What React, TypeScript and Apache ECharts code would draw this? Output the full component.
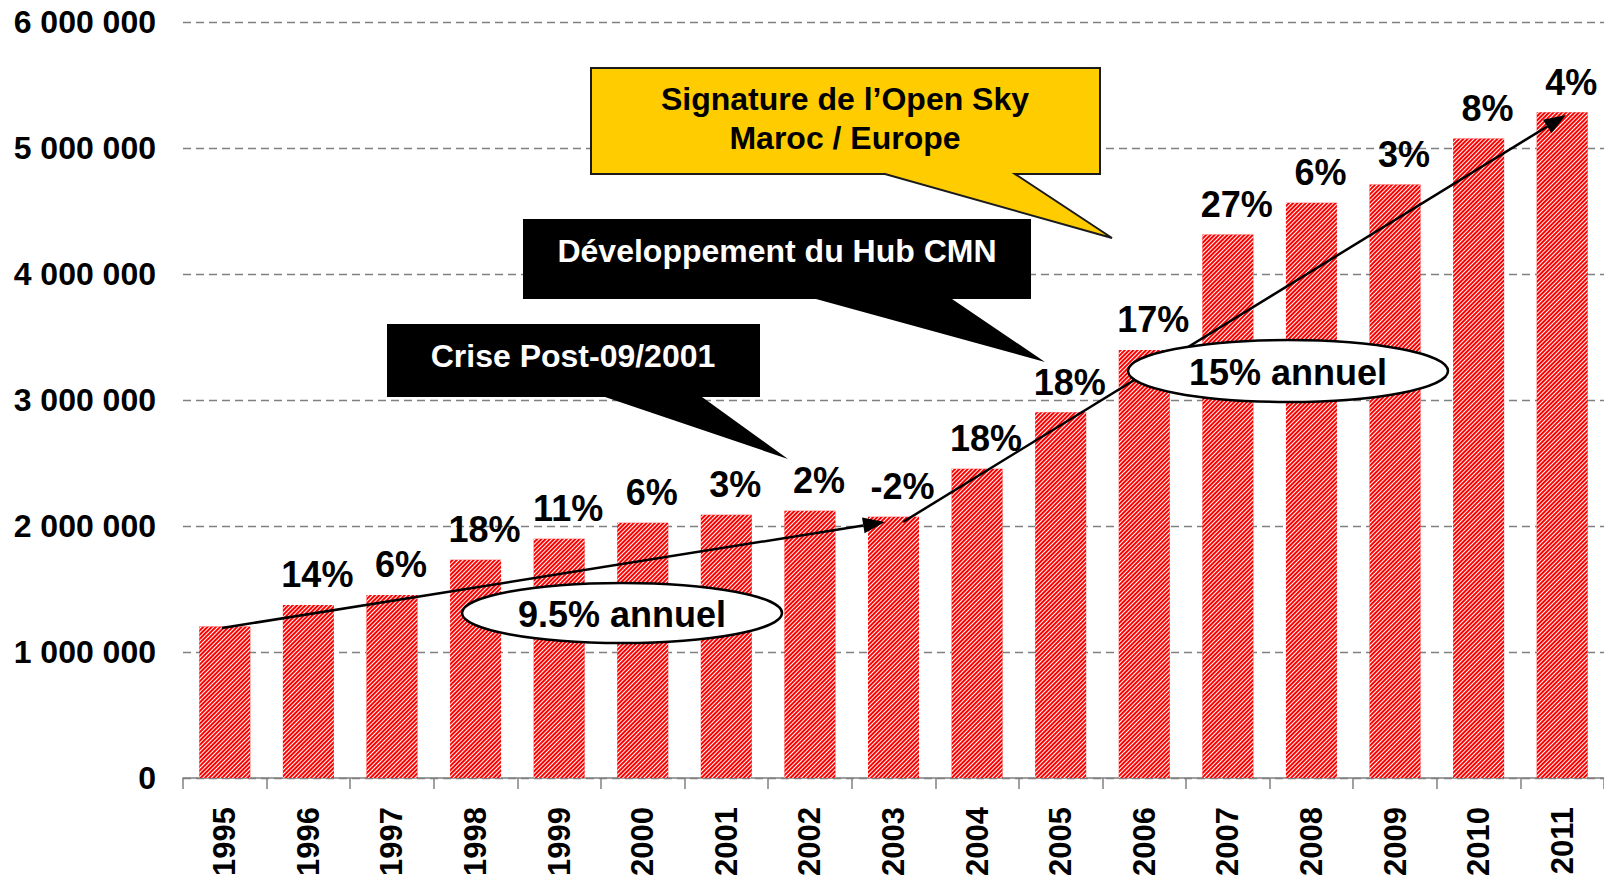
import React, { useEffect, useRef } from "react";
import * as echarts from "echarts";

const years = ["1995", "1996", "1997", "1998", "1999", "2000", "2001", "2002", "2003", "2004", "2005", "2006", "2007", "2008", "2009", "2010", "2011"];
const passengers = [1202000, 1374000, 1453000, 1732000, 1898000, 2025000, 2089000, 2121000, 2073000, 2454000, 2902000, 3397000, 4313000, 4565000, 4710000, 5075000, 5284000];
const growth = ["", "14%", "6%", "18%", "11%", "6%", "3%", "2%", "-2%", "18%", "18%", "17%", "27%", "6%", "3%", "8%", "4%"];
const yTicks = [0, 1000000, 2000000, 3000000, 4000000, 5000000, 6000000];

const FONT = "'Liberation Sans', Arial, sans-serif";

function fmt(v: number) {
  return String(v).replace(/\B(?=(\d{3})+(?!\d))/g, " ");
}

function arrow(x1: number, y1: number, x2: number, y2: number) {
  const len = 22;
  const w = 8;
  const a = Math.atan2(y2 - y1, x2 - x1);
  const bx = x2 - len * Math.cos(a);
  const by = y2 - len * Math.sin(a);
  const px = -Math.sin(a) * w;
  const py = Math.cos(a) * w;
  return [
    { type: "line", z: 100, shape: { x1, y1, x2: bx, y2: by }, style: { stroke: "#000", lineWidth: 2.5 } },
    { type: "polygon", z: 100, shape: { points: [[x2, y2], [bx + px, by + py], [bx - px, by - py]] }, style: { fill: "#000" } },
  ];
}

function ellipse(cx: number, cy: number, rx: number, ry: number, text: string) {
  return [
    { type: "ellipse", z: 101, shape: { cx, cy, rx, ry }, style: { fill: "#fff", stroke: "#000", lineWidth: 2.5 } },
    { type: "text", z: 102, style: { text, x: cx, y: cy + 1, fill: "#000", font: `bold 36px ${FONT}`, textAlign: "center", textVerticalAlign: "middle" } },
  ];
}

function callout(points: number[][], fill: string, stroke: string | null, lines: { t: string; x: number; y: number }[], color: string) {
  const els: any[] = [
    { type: "polygon", z: 103, shape: { points }, style: stroke ? { fill, stroke, lineWidth: 2 } : { fill } },
  ];
  lines.forEach((l) => {
    els.push({ type: "text", z: 104, style: { text: l.t, x: l.x, y: l.y, fill: color, font: `bold 32px ${FONT}`, textAlign: "center", textVerticalAlign: "middle" } });
  });
  return els;
}

export default function App() {
  const ref = useRef<HTMLDivElement>(null);
  useEffect(() => {
    if (!ref.current) return;
    const chart = echarts.init(ref.current, undefined, { renderer: "svg" });
    const graphics: any[] = [
      ...arrow(222, 628, 885, 522),
      ...arrow(903, 522, 1566, 115),
      ...ellipse(622, 613, 160, 30, "9.5% annuel"),
      ...ellipse(1288, 371, 160, 31, "15% annuel"),
      ...callout(
        [[591, 68], [1100, 68], [1100, 174], [1015, 174], [1112, 238], [885, 174], [591, 174]],
        "#FFCC00",
        "#1a1a1a",
        [
          { t: "Signature de l\u2019Open Sky", x: 845, y: 99 },
          { t: "Maroc / Europe", x: 845, y: 138 },
        ],
        "#000"
      ),
      ...callout(
        [[523, 219], [1031, 219], [1031, 299], [952, 299], [1045, 362], [816, 299], [523, 299]],
        "#000",
        null,
        [{ t: "D\u00e9veloppement du Hub CMN", x: 777, y: 251 }],
        "#fff"
      ),
      ...callout(
        [[387, 324], [760, 324], [760, 397], [702, 397], [788, 459], [605, 397], [387, 397]],
        "#000",
        null,
        [{ t: "Crise Post-09/2001", x: 573, y: 356 }],
        "#fff"
      ),
    ];
    chart.setOption({
      animation: false,
      grid: { left: 183, top: 22, width: 1424, height: 756, containLabel: false },
      xAxis: {
        type: "category",
        data: years,
        axisLine: { lineStyle: { color: "#808080", width: 1.5 } },
        axisTick: { show: true, length: 11, lineStyle: { color: "#808080", width: 1.5 } },
        axisLabel: { rotate: 90, margin: 29, fontSize: 31, fontWeight: "bold", color: "#000", fontFamily: FONT },
      },
      yAxis: {
        type: "value",
        min: yTicks[0],
        max: yTicks[yTicks.length - 1],
        interval: yTicks[1] - yTicks[0],
        axisLine: { show: false },
        axisTick: { show: false },
        axisLabel: { margin: 27, fontSize: 32, fontWeight: "bold", color: "#000", fontFamily: FONT, formatter: (v: number) => fmt(v) },
        splitLine: { lineStyle: { color: "#808080", type: [8, 5], width: 1.3 } },
      },
      series: [
        {
          type: "bar",
          data: passengers,
          barWidth: 51,
          itemStyle: {
            color: "#ff0000",
            decal: {
              symbol: "rect",
              symbolSize: 1,
              color: "#ffffff",
              dashArrayX: [1, 0],
              dashArrayY: [1, 2],
              rotation: -Math.PI / 4,
            },
          },
          label: {
            show: true,
            position: "top",
            distance: 12,
            offset: [9, 0],
            fontSize: 36,
            fontWeight: "bold",
            color: "#000",
            fontFamily: FONT,
            formatter: (p: any) => growth[p.dataIndex],
          },
        },
      ],
      graphic: graphics,
    });
    return () => chart.dispose();
  }, []);
  return <div ref={ref} style={{ position: "fixed", left: 0, top: 0, width: 1604, height: 880, background: "#fff" }} />;
}
